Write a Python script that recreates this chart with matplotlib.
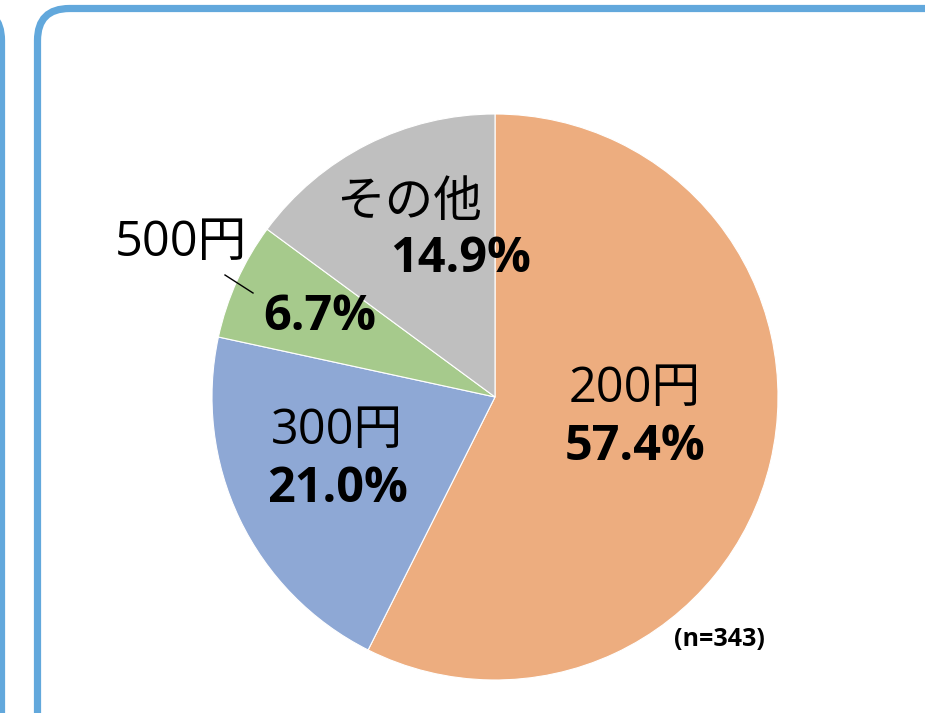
import matplotlib.pyplot as plt
from matplotlib.patches import FancyBboxPatch

plt.rcParams['font.family'] = ['Open Sans', 'Noto Sans CJK JP', 'DejaVu Sans']

categories = ['200円', '300円', '500円', 'その他']
shares = [57.4, 21.0, 6.7, 14.9]
colors = ['#EDAD7F', '#8EA8D5', '#A6CA8C', '#BFBFBF']
n_label = '(n=343)'

W, H = 925, 713
fig = plt.figure(figsize=(W / 100, H / 100), dpi=100)
ax = fig.add_axes([0, 0, 1, 1])

def Y(y):
    # image-pixel y (top down) -> data y
    return H - y

# blue rounded frames
frame_c = '#62A8DC'
ax.add_patch(FancyBboxPatch((37.5, Y(900)), 1000, 900 - 8.5,
                            boxstyle='round,pad=0,rounding_size=32',
                            fill=False, ec=frame_c, lw=5.2))
ax.add_patch(FancyBboxPatch((-300, Y(900)), 301.5, 900 - 8.5,
                            boxstyle='round,pad=0,rounding_size=32',
                            fill=False, ec=frame_c, lw=5.2))

ax.pie(shares, colors=colors, startangle=90, counterclock=False,
       center=(495, Y(397)), radius=283,
       wedgeprops=dict(edgecolor='white', linewidth=0.8), frame=True)
ax.set_xlim(0, W)
ax.set_ylim(0, H)
ax.set_aspect('equal')
ax.axis('off')

name_pos = [(635, 389), (337, 431), (181, 243), (409, 203)]
pct_pos = [(635, 448), (338, 489), (320, 318), (461, 260)]
for cat, v, (nx, ny), (px, py) in zip(categories, shares, name_pos, pct_pos):
    ax.text(nx, Y(ny), cat, ha='center', va='center', fontsize=35)
    ax.text(px, Y(py), f'{v:.1f}%', ha='center', va='center',
            fontsize=35, fontweight='bold')

# leader line for 500円
ax.plot([225, 253], [Y(275), Y(293)], color='black', lw=1)

ax.text(719, Y(640), n_label, ha='center', va='center',
        fontsize=18, fontweight='bold')

fig.savefig('out.png', dpi=100)
